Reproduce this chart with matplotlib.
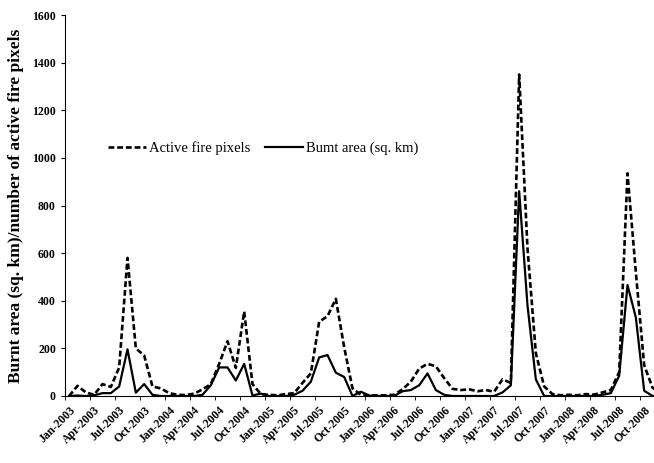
import numpy as np
import matplotlib
matplotlib.use("Agg")
import matplotlib.pyplot as plt

plt.rcParams['font.family'] = ['Liberation Serif', 'DejaVu Serif']

# monthly series, Jan-2003 .. Dec-2008
active_fire = [0, 43, 15, 5, 50, 38, 120, 580, 200, 170, 40, 32,
               12, 5, 4, 10, 28, 50, 135, 230, 118, 355, 50, 8,
               5, 3, 8, 12, 55, 95, 312, 335, 408, 205, 32, 5,
               3, 3, 3, 5, 28, 60, 115, 135, 125, 75, 30, 25,
               28, 20, 25, 18, 70, 55, 1350, 620, 180, 40, 8, 3,
               5, 3, 8, 6, 15, 25, 100, 935, 520, 130, 35, 10]
burnt_area = [0, 2, 0, 3, 12, 12, 40, 196, 14, 50, 5, 0,
              0, 0, 0, 0, 5, 45, 120, 120, 65, 135, 2, 10,
              0, 0, 0, 5, 22, 60, 162, 172, 98, 80, 0, 18,
              2, 0, 0, 0, 20, 25, 45, 95, 25, 5, 0, 0,
              0, 0, 0, 0, 15, 45, 860, 380, 70, 0, 0, 0,
              0, 0, 0, 0, 5, 12, 85, 466, 330, 22, 0, 0]
tick_labels = ['Jan-2003', 'Apr-2003', 'Jul-2003', 'Oct-2003',
               'Jan-2004', 'Apr-2004', 'Jul-2004', 'Oct-2004',
               'Jan-2005', 'Apr-2005', 'Jul-2005', 'Oct-2005',
               'Jan-2006', 'Apr-2006', 'Jul-2006', 'Oct-2006',
               'Jan-2007', 'Apr-2007', 'Jul-2007', 'Oct-2007',
               'Jan-2008', 'Apr-2008', 'Jul-2008', 'Oct-2008']

x = np.arange(len(active_fire))

fig = plt.figure(figsize=(6.54, 4.63), dpi=100)
# axes run a bit past the right edge, like the cropped original
ax = fig.add_axes([65/654, 67/463, 600/654, 381/463])

ax.plot(x, active_fire, color='black', lw=1.9, linestyle=(0, (2.2, 1.1)),
        label='Active fire pixels')
ax.plot(x, burnt_area, color='black', lw=1.6, label='Bumt area (sq. km)')

ax.set_xlim(-0.5, len(x) - 0.5)
ax.set_ylim(0, 1600)
ax.set_yticks(np.arange(0, 1601, 200))

lab_pos = np.arange(0, len(x), 3)
ax.set_xticks(lab_pos)
ax.set_xticklabels(tick_labels, rotation=45, ha='right', rotation_mode='anchor',
                   fontsize=8.5, fontweight='bold')
ax.set_xticks(lab_pos - 0.5, minor=True)
ax.tick_params(axis='x', which='major', length=0, pad=6)
ax.tick_params(axis='x', which='minor', length=3, direction='out')
ax.tick_params(axis='y', length=3, direction='out', labelsize=8.5)
for t in ax.get_yticklabels():
    t.set_fontweight('bold')

for s in ['top', 'right']:
    ax.spines[s].set_visible(False)

ax.set_ylabel('Burnt area (sq. km)/number of active fire pixels',
              fontsize=12.5, fontweight='bold', labelpad=6)

ax.legend(loc='center left', bbox_to_anchor=(0.05, 0.65), ncol=2,
          frameon=False, fontsize=10.5, handlelength=2.6,
          columnspacing=1.0, handletextpad=0.2)

fig.savefig('out.png', dpi=100)
